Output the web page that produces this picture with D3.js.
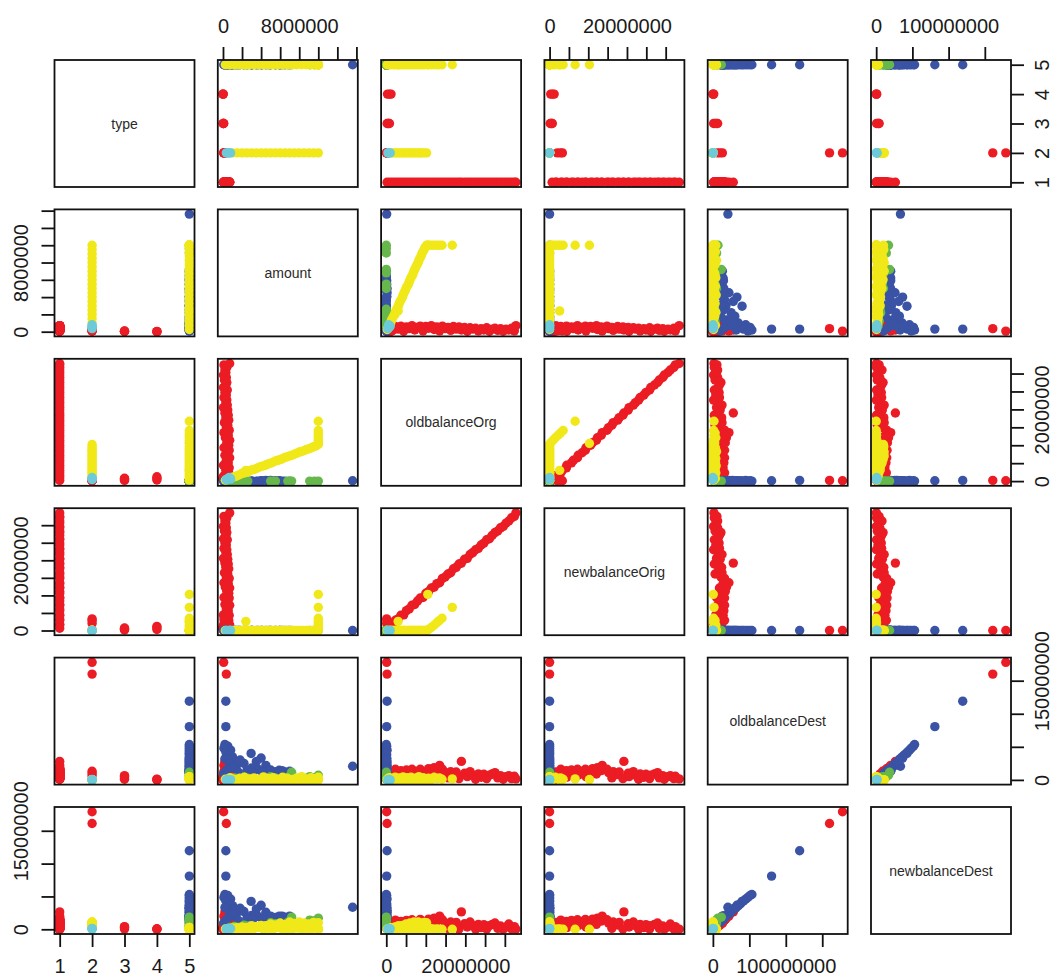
<!DOCTYPE html>
<html><head><meta charset="utf-8">
<script src="https://cdn.jsdelivr.net/npm/d3@7"></script>
<style>
html,body{margin:0;padding:0;background:#fff;}
svg{display:block;font-family:"Liberation Sans",Arial,sans-serif;}
</style></head><body>
<svg id="chart" width="1054" height="978"></svg>
<script>
// Variable names (diagonal labels)
const varNames = ["type","amount","oldbalanceOrg","newbalanceOrig","oldbalanceDest","newbalanceDest"];

// Each row: [type, amount, oldbalanceOrg, newbalanceOrig, oldbalanceDest, newbalanceDest] (money in millions)
const redRows = [
  [1,0.45,0.2,0.65,2,0.8],[1,0.70,0.9,1.6,12,10.5],[1,0.15,1.6,1.75,6,4.5],[1,0.60,2.3,2.9,16,14],
  [1,0.30,3.0,3.3,9,7.5],[1,0.65,3.7,4.35,14,12],[1,0.05,4.4,4.45,4,2.5],[1,0.55,5.1,5.65,15,13.5],
  [1,0.35,5.8,6.15,10,8.5],[1,0.70,6.5,7.2,16,14.5],[1,0.20,7.2,7.4,7,5.5],[1,0.50,7.9,8.4,13,11.5],
  [1,0.65,8.6,9.25,16,15],[1,0.10,9.3,9.4,5,3.5],[1,0.60,10.0,10.6,12,10.5],[1,0.40,10.7,11.1,17,15.5],
  [1,0.70,11.4,12.1,9,7.5],[1,0.25,12.1,12.35,18.5,17],[1,0.55,12.8,13.35,14,12.5],[1,0.10,13.5,13.6,22,20],
  [1,0.65,14.2,14.85,16,14.5],[1,0.35,14.9,15.25,11,9.5],[1,0.50,15.6,16.1,3,1.5],[1,0.15,16.3,16.45,12.5,11],
  [1,0.60,17.0,17.6,8,6.5],[1,0.30,17.7,18.0,12,10.5],[1,0.55,18.4,18.95,2,0.5],[1,0.20,19.0,19.2,28,26.5],
  [1,0.50,19.8,20.3,10,8.5],[1,0.05,20.5,20.55,5,3.5],[1,0.45,21.2,21.65,12.5,11],[1,0.30,21.9,22.2,7,5.5],
  [1,0.40,22.6,23.0,1,0.3],[1,0.10,23.3,23.4,9,7.5],[1,0.35,24.0,24.35,4,2.5],[1,0.20,24.7,24.9,8.5,7],
  [1,0.45,25.4,25.85,2,0.5],[1,0.05,26.1,26.15,7,5.5],[1,0.30,26.8,27.1,9,7.5],[1,0.40,27.5,27.9,11,9.5],
  [1,0.15,28.2,28.35,3,1.5],[1,0.35,28.9,29.25,6.5,5],[1,0.05,29.6,29.65,1,0.3],[1,0.30,30.3,30.6,5,3.5],
  [1,0.20,31.0,31.2,6.5,8],[1,0.40,31.7,32.1,2,0.5],[1,0.10,32.4,32.5,5.5,4],[1,0.70,32.8,33.5,1.5,0.3],
  [2,0.07,0.1,0,177.8,179.0],[2,0.35,0.2,0,160.0,161.0],[2,0.10,0.1,2.0,6,3],[2,0.15,0.2,2.8,9.5,6],[2,0.10,0.1,3.3,13,9],
  [3,0.03,0.4,0.35,3,2.5],[3,0.08,0.8,0.7,6.5,4],[3,0.05,0.2,0.15,1,0.5],[3,0.02,0.6,0.58,5,3.5],
  [4,0.02,1.2,1.18,0.5,0.3],[4,0.01,0.3,0.29,1.2,0.8],[4,0,0.8,0.76,0,0]
];
const blueRows = [
  [5,13.6,0.1,0,20.6,33.5],[5,0.3,0.2,0,119,119.5],[5,0.3,0.1,0,80.5,81],[5,0.2,0,0,53.5,53],
  [5,0.5,0.1,0,51,51.5],[5,0.1,0,0,48,48.5],[5,0.8,0.2,0,45,46],[5,0.3,0,0,42,43],
  [5,0.6,0.1,0,38,39],[5,1.0,0,0,35,36],[5,0.2,0.1,0,32,33],[5,0.9,0,0,30,31.5],
  [5,1.2,0.2,0,27,29],[5,0.7,0,0,24,25],[5,1.4,0.1,0,21,23],[5,0.9,0,0,18,20],
  [5,2.95,0,0,40,42.5],[5,4.0,0.1,0,33,36.5],[5,3.5,0,0,28,31],[5,4.5,0.2,0,22,26],
  [5,2.2,0,0,25,27],[5,1.8,0.1,0,30,32],[5,3.0,0,0,18,21],[5,2.5,0,0,14,16.5],
  [5,1.6,0.1,0,12,13.5],[5,4.8,0,0,13,18],[5,5.5,0.1,0,12.5,18],[5,6.0,0,0,11.5,17.5],
  [5,6.5,0,0,12,18.5],[5,5.0,0.2,0,15,20],[5,7.0,0,0,13,20],[5,5.9,0.1,0,14.5,20],
  [5,3.7,0,0,16,19.5],[5,6.2,0,0,14,20],[5,4.1,0.1,0,12.5,16.5],[5,3.1,0,0,11,14],
  [5,0.1,0,0,10,10.1],[5,0.4,0.1,0,15,15.4]
];
const greenRows = [
  [5,0.7,0,0,2,2.7],[5,1.2,0,0,3,4.2],[5,1.7,0,0,1.5,3.2],[5,2.2,0,0,4,6.2],[5,2.6,0,0,2.5,5.1],
  [5,5.0,0,0,5,10],[5,5.5,0,0,3,8.5],[5,6.8,0,0,4,10.8],[5,7.2,0,0,11.5,18.5],
  [5,9.1,0,0,5,14],[5,9.6,0,0,3.5,13],[5,10.0,0,0,7,17]
];
const yellowRows = [
  [2,1.0,1.1,0,0,2.0],[2,1.5,1.5,0,0,2.5],[2,2.0,2.2,0,0,3.5],[2,2.5,2.5,0,0,3.0],[2,3.0,3.1,0,0,5.5],
  [2,3.5,3.5,0,0,4.5],[2,4.0,4.1,0,0,6.0],[2,4.5,4.5,0,0,5.5],[2,5.0,5.0,0,0,8.0],[2,5.5,5.6,0,0,6.5],
  [2,6.0,6.0,0,0,9.5],[2,6.5,6.6,0,0,7.5],[2,7.0,7.0,0,0,11.0],[2,7.5,7.5,0,0,9.0],[2,8.0,8.1,0,0,11.0],
  [2,8.5,8.5,0,0,9.5],[2,9.0,9.0,0,0,8.0],[2,9.5,9.6,0,0,10.5],[2,10.0,10.2,0,0,10.0],
  [5,0.25,0.25,0,1.0,0.5],[5,0.75,0.8,0,3.5,0],[5,1.25,1.25,0,0.5,1.5],[5,1.75,1.8,0,2.5,0],
  [5,2.25,2.25,0,4.0,2.0],[5,2.75,2.8,0,1.5,0],[5,3.25,3.25,0,3.0,1.0],[5,3.75,3.8,0,0.5,3.0],
  [5,4.25,4.25,0,4.5,0],[5,4.75,4.8,0,2.0,1.5],[5,5.25,5.25,0,3.5,0],[5,5.75,5.8,0,1.0,2.5],
  [5,6.25,6.25,0,4.0,0],[5,6.75,6.8,0,2.5,1.0],[5,7.25,7.25,0,0.5,0],[5,7.75,7.8,0,3.0,2.0],
  [5,8.25,8.25,0,5.0,0],[5,8.75,8.8,0,1.5,1.0],[5,9.25,9.25,0,3.5,0],[5,9.75,9.8,0,2.0,3.0],
  [5,10.0,10.7,0.3,2.5,0],[5,10.0,11.4,0.9,0.5,1.0],[5,10.0,12.1,1.5,4.0,0],[5,10.0,12.8,2.2,1.5,0.5],
  [5,10.0,13.4,2.8,3.0,0],[5,10.0,14.1,3.5,1.0,0],[5,10.0,16.7,6.6,1.5,0],[5,10.0,10.5,10.3,0.5,0],
  [5,2.4,3.0,2.6,1.0,0]
];
const cyanRows = [
  [2,0.35,0.4,0,0,0.4],[2,0.5,0.7,0,0.5,1.0],[2,0.65,1.0,0,0,0.7],[2,0.8,0.6,0,0.3,1.1]
];

// Tick values (millions for money) and labels
const typeTicks = [1,2,3,4,5];
const typeTickLabels = ["1","2","3","4","5"];
const amountTicks = [0,2,4,6,8,10,12,14];
const amountTickLabels = ["0","","","","8000000","","",""];
const orgTicks = [0,5,10,15,20,25,30];
const orgTickLabels = ["0","","","","20000000","",""];
const destTicks = [0,50,100,150];
const destTickLabelsX = ["0","","100000000",""];
const destTickLabelsY = ["0","","","150000000"];

const groupColors = ["#EC1C24","#3A53A4","#66B84A","#F1E819","#6DCBD9"];
const groupRows = [redRows, blueRows, greenRows, yellowRows, cyanRows];

const ticksFor = [typeTicks, amountTicks, orgTicks, orgTicks, destTicks, destTicks];
const xLabelsFor = [typeTickLabels, amountTickLabels, orgTickLabels, orgTickLabels, destTickLabelsX, destTickLabelsX];
const yLabelsFor = [typeTickLabels, amountTickLabels, orgTickLabels, orgTickLabels, destTickLabelsY, destTickLabelsY];

// layout
const panelX0 = 54.5, panelDX = 163.3, panelW = 140;
const panelY0 = 60, panelDY = 149.4, panelH = 127;
const tickLen = 13, R = 4.7;
const nV = varNames.length;

const svg = d3.select("#chart");
const pts = [];
groupRows.forEach((rows, g) => rows.forEach(r => pts.push({r, c: groupColors[g]})));

const xs = [], ys = [];
for (let k = 0; k < nV; k++) {
  const ext = d3.extent(pts, p => p.r[k]);
  const pad = (ext[1] - ext[0]) * 0.04;
  const dom = [ext[0] - pad, ext[1] + pad];
  const x0 = panelX0 + k * panelDX, y0 = panelY0 + k * panelDY;
  xs.push(d3.scaleLinear().domain(dom).range([x0, x0 + panelW]));
  ys.push(d3.scaleLinear().domain(dom).range([y0 + panelH, y0]));
}

const defs = svg.append("defs");
for (let i = 0; i < nV; i++) {
  for (let j = 0; j < nV; j++) {
    const x0 = panelX0 + j * panelDX, y0 = panelY0 + i * panelDY;
    const g = svg.append("g");
    if (i === j) {
      g.append("text").attr("x", x0 + panelW / 2).attr("y", y0 + panelH / 2 + 5)
        .attr("text-anchor", "middle").attr("font-size", 14).attr("fill", "#2a2a2a")
        .text(varNames[i]);
    } else {
      const cid = `clip-${i}-${j}`;
      defs.append("clipPath").attr("id", cid).append("rect")
        .attr("x", x0).attr("y", y0).attr("width", panelW).attr("height", panelH);
      g.append("g").attr("clip-path", `url(#${cid})`).selectAll("circle").data(pts).join("circle")
        .attr("cx", p => xs[j](p.r[j])).attr("cy", p => ys[i](p.r[i]))
        .attr("r", R).attr("fill", p => p.c);
    }
    g.append("rect").attr("x", x0).attr("y", y0).attr("width", panelW).attr("height", panelH)
      .attr("fill", "none").attr("stroke", "#111").attr("stroke-width", 1.8);
  }
}

function styleAxis(ax) {
  ax.select(".domain").remove();
  ax.selectAll(".tick line").attr("stroke", "#111").attr("stroke-width", 1.8);
  ax.selectAll(".tick text").attr("font-size", 20).attr("fill", "#1a1a1a")
    .attr("font-family", "'Liberation Sans', Arial, sans-serif");
}

// column axes
for (let j = 0; j < nV; j++) {
  const labs = xLabelsFor[j];
  const fmt = (d, idx) => labs[idx];
  if (j % 2 === 1) {
    const ax = svg.append("g").attr("transform", `translate(0,${panelY0})`)
      .call(d3.axisTop(xs[j]).tickValues(ticksFor[j]).tickSize(tickLen).tickFormat(fmt));
    styleAxis(ax);
    ax.selectAll(".tick text").attr("y", -27).attr("dy", 0);
  } else {
    const yb = panelY0 + (nV - 1) * panelDY + panelH;
    const ax = svg.append("g").attr("transform", `translate(0,${yb})`)
      .call(d3.axisBottom(xs[j]).tickValues(ticksFor[j]).tickSize(tickLen).tickFormat(fmt));
    styleAxis(ax);
    ax.selectAll(".tick text").attr("y", 38.5).attr("dy", 0);
  }
}
// row axes
for (let i = 0; i < nV; i++) {
  const labs = yLabelsFor[i];
  const fmt = (d, idx) => labs[idx];
  if (i % 2 === 1) {
    const ax = svg.append("g").attr("transform", `translate(${panelX0},0)`)
      .call(d3.axisLeft(ys[i]).tickValues(ticksFor[i]).tickSize(tickLen).tickFormat(fmt));
    styleAxis(ax);
    ax.selectAll(".tick text").attr("x", null).attr("dy", 0).attr("text-anchor", "middle")
      .attr("transform", "translate(-26.5,0) rotate(-90)");
  } else {
    const xr = panelX0 + (nV - 1) * panelDX + panelW;
    const ax = svg.append("g").attr("transform", `translate(${xr},0)`)
      .call(d3.axisRight(ys[i]).tickValues(ticksFor[i]).tickSize(tickLen).tickFormat(fmt));
    styleAxis(ax);
    ax.selectAll(".tick text").attr("x", null).attr("dy", 0).attr("text-anchor", "middle")
      .attr("transform", "translate(37.5,0) rotate(-90)");
  }
}
</script>
</body></html>
